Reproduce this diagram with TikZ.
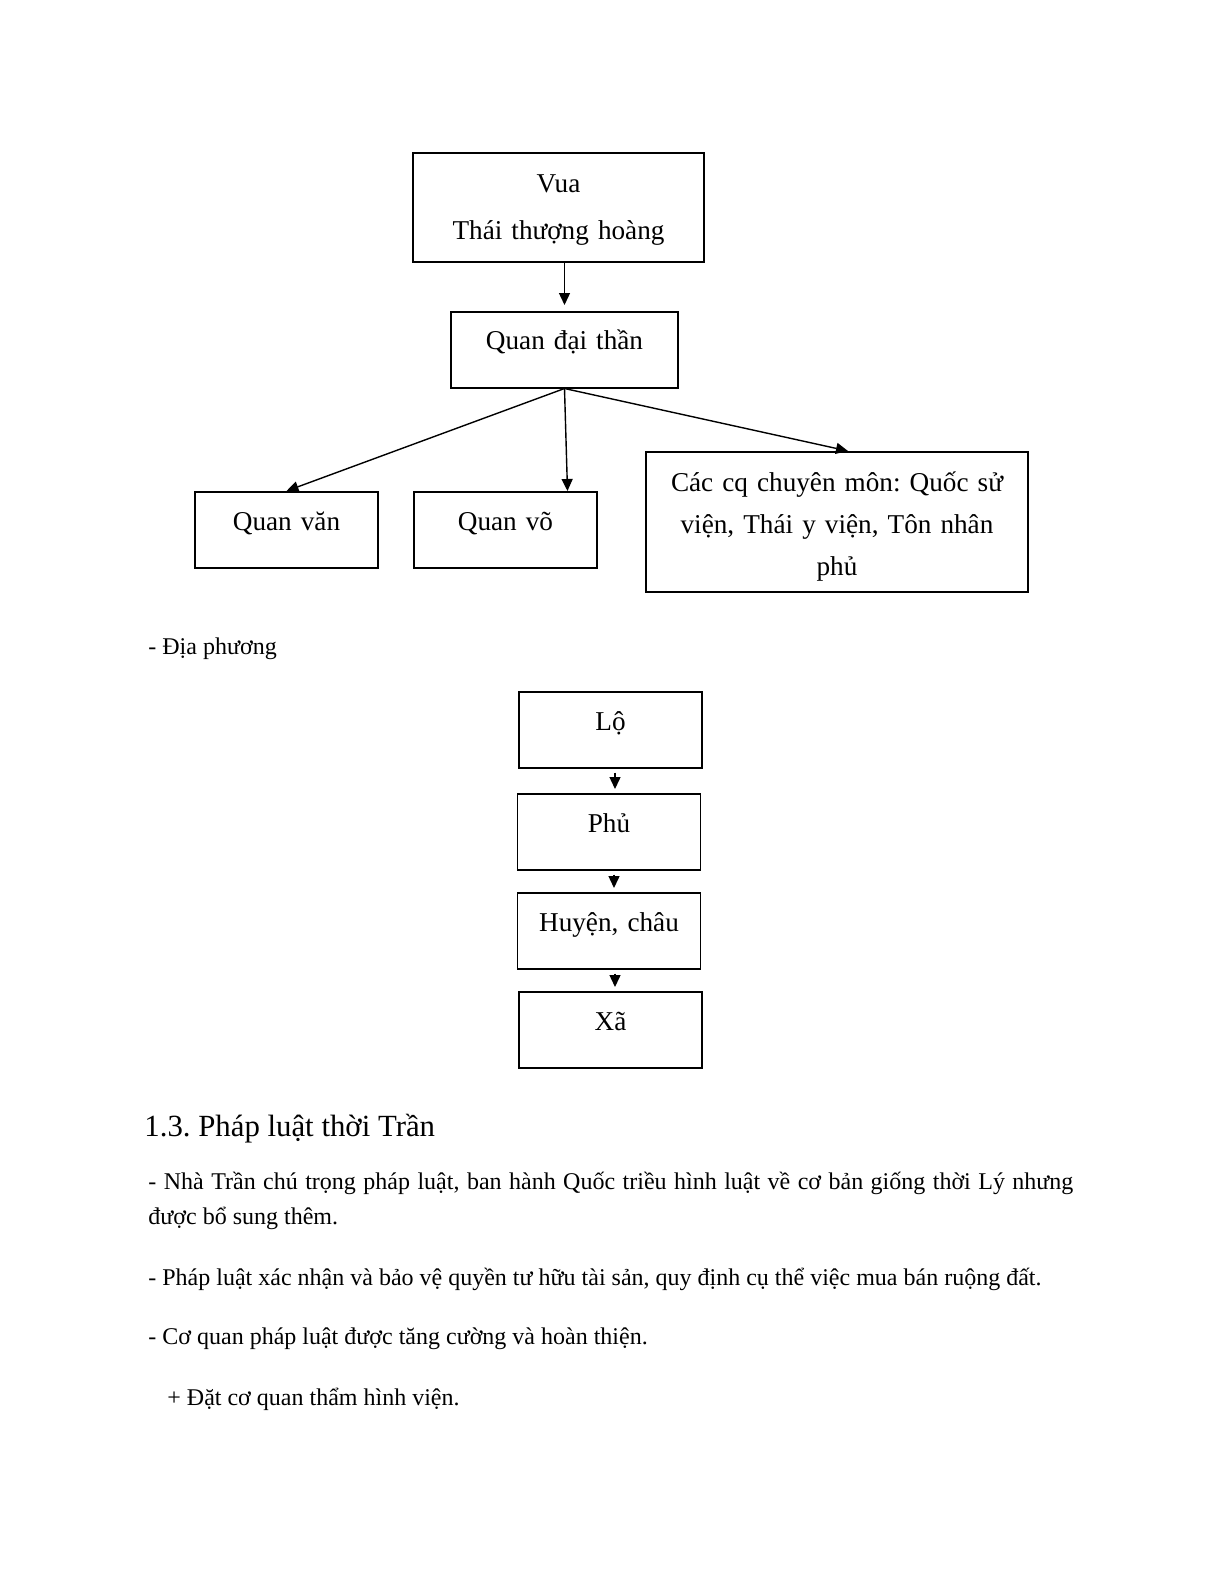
\documentclass[tikz,border=0pt]{standalone}
\usepackage{fontspec}
\setmainfont{Liberation Serif}
\usetikzlibrary{arrows.meta}
\frenchspacing

\begin{document}
\begin{tikzpicture}[
    x=0.5pt, y=-0.5pt,
    box/.style={draw, line width=0.75pt, inner sep=0pt, anchor=north, align=center,
        font=\fontsize{13.6}{23.5}\selectfont},
    onebox/.style={box, text width=91.5pt, text height=19.5pt, text depth=18.5pt},
    arr/.style={line width=0.7pt, -{Triangle[width=5.5pt,length=6pt]}},
    every node/.append style={inner sep=0pt},
    txt/.style={anchor=base west, font=\fontsize{12}{14}\selectfont}
]
\useasboundingbox (0,0) rectangle (1224,1584);

% trung uong
\node[box, text width=145.5pt, text height=20pt, text depth=34.5pt] (vua) at (558.5,152)
    {Vua\\Thái thượng hoàng};
\node[box, text width=113.5pt, text height=19pt, text depth=19pt] (daithan) at (564.5,311)
    {Quan đại thần};
\node[onebox] (quanvan) at (286.5,491) {Quan văn};
\node[onebox] (quanvo) at (505.5,491) {Quan võ};
\node[box, text width=191pt, text height=20pt, text depth=50pt,
      font=\fontsize{13.6}{21}\selectfont] (cacq) at (837,451)
    {Các cq chuyên môn: Quốc sử\\viện, Thái y viện, Tôn nhân\\phủ};

\draw[arr, shorten >=3pt] (vua.south -| daithan.north) -- (daithan.north);
\draw[arr] (daithan.south) -- (quanvan.north);
\draw[arr] (daithan.south) -- ([xshift=31pt]quanvo.north);
\draw[arr] (daithan.south) -- ([xshift=5.5pt]cacq.north);

\node[txt] (diaphuong) at (148,654) {- Địa phương};

% dia phuong
\node[onebox] (lo) at (610.5,691) {Lộ};
\node[onebox] (phu) at (609,793) {Phủ};
\node[onebox] (huyen) at (609,892) {Huyện, châu};
\node[onebox] (xa) at (610.5,991) {Xã};

\draw[arr, shorten <=2pt, shorten >=2pt] ([xshift=2.25pt]lo.south) -- ([xshift=2.25pt]lo.south |- phu.north);
\draw[arr, shorten <=2pt, shorten >=2pt] ([xshift=2.5pt]phu.south) -- ([xshift=2.5pt]phu.south |- huyen.north);
\draw[arr, shorten <=2pt, shorten >=2pt] ([xshift=3pt]huyen.south) -- ([xshift=3pt]huyen.south |- xa.north);

% phap luat
\node[txt, font=\fontsize{15.4}{18}\selectfont] (tieude) at (144,1136) {1.3. Pháp luật thời Trần};
\node[txt] (y1a) at (148,1189)
    {\makebox[462.5pt][s]{- Nhà Trần chú trọng pháp luật, ban hành Quốc triều hình luật về cơ bản giống thời Lý nhưng}};
\node[txt] (y1b) at (148,1224) {được bổ sung thêm.};
\node[txt] (y2) at (148,1285)
    {- Pháp luật xác nhận và bảo vệ quyền tư hữu tài sản, quy định cụ thể việc mua bán ruộng đất.};
\node[txt] (y3) at (148,1344) {- Cơ quan pháp luật được tăng cường và hoàn thiện.};
\node[txt] (y4) at (167,1405) {+ Đặt cơ quan thẩm hình viện.};
\end{tikzpicture}
\end{document}
